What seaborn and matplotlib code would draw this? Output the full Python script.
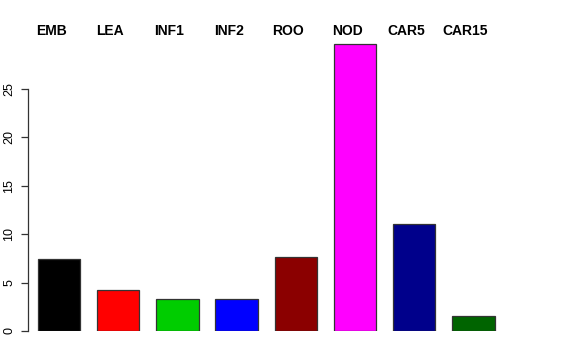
import matplotlib
matplotlib.use('Agg')
import matplotlib.pyplot as plt
import matplotlib.transforms as mtransforms
import seaborn as sns
import pandas as pd

# values
categories = ['EMB', 'LEA', 'INF1', 'INF2', 'ROO', 'NOD', 'CAR5', 'CAR15']
values = [7.4, 4.25, 3.27, 3.33, 7.6, 29.66, 11.03, 1.52]
colors = ['#000000', '#FF0000', '#00CD00', '#0000FF', '#8B0000', '#FF00FF', '#00008B', '#006400']
yticks = [0, 5, 10, 15, 20, 25]

df = pd.DataFrame({'tissue': categories, 'value': values})

sns.set_style('white')
plt.rcParams['font.family'] = ['Liberation Sans', 'DejaVu Sans']
plt.rcParams['text.color'] = 'black'
plt.rcParams['ytick.color'] = 'black'

fig = plt.figure(figsize=(5.76, 3.6), dpi=100)
ax = fig.add_axes([28 / 576, 29 / 360, 485 / 576, 299 / 360])

sns.barplot(data=df, x='tissue', y='value', hue='tissue', palette=colors,
            width=0.714, edgecolor='#333333', linewidth=0.9, legend=False,
            saturation=1, ax=ax)

ax.set_xlim(-0.524, -0.524 + 485 / 59.2)
ax.set_ylim(0, 30.85)

for s in ['top', 'right', 'bottom']:
    ax.spines[s].set_visible(False)
ax.spines['left'].set_bounds(0, 25)
ax.spines['left'].set_color('#333333')
ax.spines['left'].set_linewidth(0.9)

ax.set_xticks([])
ax.set_yticks(yticks)
ax.set_yticklabels([str(t) for t in yticks], rotation=90, va='center', fontsize=9)
ax.tick_params(axis='y', left=True, length=5, width=0.9, color='#333333', pad=4)
ax.set_xlabel('')
ax.set_ylabel('')

# tissue names across the top
trans = mtransforms.blended_transform_factory(ax.transData, fig.transFigure)
for i, name in enumerate(categories):
    ax.text(i - 8 / 59.2, (360 - 31) / 360, name, transform=trans, color='black',
            ha='center', va='center', fontsize=10, fontweight='bold', clip_on=False)

fig.savefig('out.png', dpi=100)
